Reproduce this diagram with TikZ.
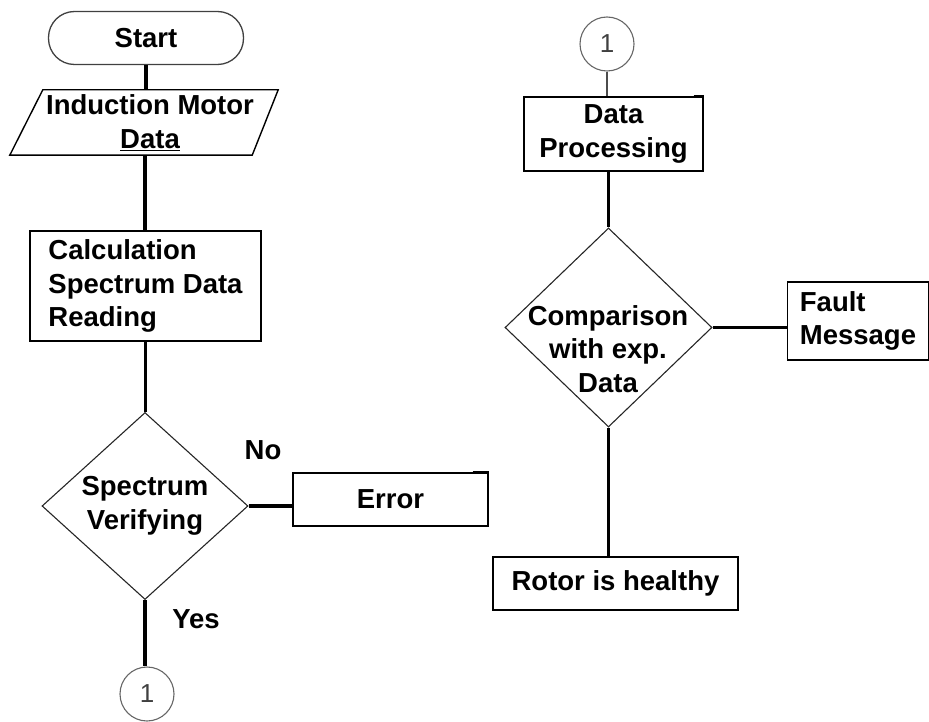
\documentclass[tikz,border=0pt]{standalone}
\usepackage{fontspec}
\setmainfont{Liberation Sans}
\usetikzlibrary{shapes.geometric}
\begin{document}
\begin{tikzpicture}[x=1pt,y=-1pt,
  every node/.style={font=\fontsize{27.5}{33.5}\selectfont\bfseries, inner sep=0pt},
  box/.style={draw=black, line width=1.4pt, rectangle},
  decision/.style={draw=black!85, line width=1.1pt, diamond},
  terminal/.style={draw=black!75, line width=1.3pt, rectangle, rounded corners=26pt},
  connector/.style={draw=black!60, line width=1.1pt, circle, minimum size=54pt,
    font=\fontsize{26}{26}\selectfont\mdseries, text=black!75},
  flow/.style={line width=3.2pt, black},
  thinflow/.style={line width=1.4pt, black!70},
  tick/.style={line width=3pt, black}]
\useasboundingbox (0,0) rectangle (929,722);

% left column
\node[terminal, minimum width=195pt, minimum height=53pt] (start) at (146,38) {Start};
\node[minimum width=238pt, minimum height=65pt, align=center] (input) at (150,122.5)
  {Induction Motor\\\underline{Data}};
% slanted outline of the input block
\draw[box] ([xshift=12pt]input.north west) -- ([xshift=9pt]input.north east)
  -- ([xshift=-17pt]input.south east) -- ([xshift=-21pt]input.south west) -- cycle;
\node[box, minimum width=231pt, minimum height=110pt, align=left] (calc) at (145.5,286)
  {Calculation\\Spectrum Data\\Reading};
\node[decision, minimum width=206pt, minimum height=187pt, align=center] (verify) at (145,506)
  {Spectrum\\Verifying};
\node[box, minimum width=195pt, minimum height=53pt] (error) at (390.5,499.5) {Error};
\node (no) at (263,450) {No};
\node (yes) at (196,619) {Yes};
\node[connector] (c1) at (147,694) {1};

% right column
\node[connector] (c2) at (607,44) {1};
\node[box, minimum width=179pt, minimum height=74pt, align=center] (proc) at (613.5,134)
  {Data\\Processing};
\node[decision, minimum width=207pt, minimum height=199pt] (compare) at (608.5,327.5) {};
\node[align=center] (comparetext) at (608,349) {Comparison\\with exp.\\Data};
\node[box, minimum width=141pt, minimum height=78pt, align=left] (fault) at (858,321)
  {Fault\\Message};
\node[box, minimum width=245pt, minimum height=53pt] (rotor) at (615.5,583.5) {Rotor is healthy};

% connectors
\draw[flow] (start.south) -- (start.south |- input.north);
\draw[flow] ([xshift=-5pt]input.south) -- ([xshift=-5pt]input.south |- calc.north);
\draw[flow] (calc.south) -- (calc.south |- verify.north);
\draw[flow] (verify.east) -- (verify.east -| error.west);
\draw[flow] (verify.south) -- (verify.south |- c1.north);
\draw[tick] ([xshift=-16pt]error.north east) -- (error.north east);

\draw[thinflow] (c2.south) -- (c2.south |- proc.north);
\draw[flow] (compare.north |- proc.south) -- (compare.north);
\draw[flow] (compare.east) -- (compare.east -| fault.west);
\draw[flow] (compare.south) -- (compare.south |- rotor.north);
\draw[tick] ([xshift=-10pt]proc.north east) -- (proc.north east);
\end{tikzpicture}
\end{document}
